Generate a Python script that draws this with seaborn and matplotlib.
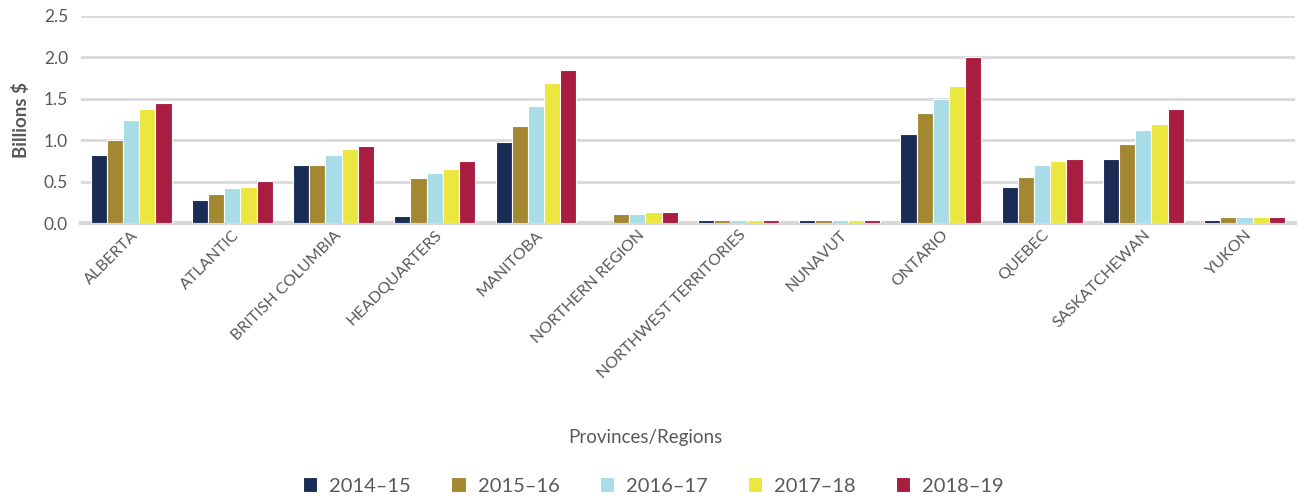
import matplotlib
matplotlib.use("Agg")
import matplotlib.pyplot as plt
import seaborn as sns
import pandas as pd

regions = ["ALBERTA", "ATLANTIC", "BRITISH COLUMBIA", "HEADQUARTERS", "MANITOBA",
           "NORTHERN REGION", "NORTHWEST TERRITORIES", "NUNAVUT", "ONTARIO",
           "QUEBEC", "SASKATCHEWAN", "YUKON"]
years = ["2014\u201315", "2015\u201316", "2016\u201317", "2017\u201318", "2018\u201319"]

v_2014_15 = [0.82, 0.28, 0.70, 0.09, 0.98, 0.00, 0.04, 0.04, 1.07, 0.44, 0.77, 0.04]
v_2015_16 = [1.00, 0.35, 0.70, 0.54, 1.17, 0.11, 0.04, 0.04, 1.33, 0.56, 0.96, 0.07]
v_2016_17 = [1.24, 0.42, 0.82, 0.61, 1.41, 0.11, 0.04, 0.04, 1.50, 0.70, 1.12, 0.07]
v_2017_18 = [1.38, 0.44, 0.89, 0.65, 1.69, 0.14, 0.04, 0.04, 1.66, 0.75, 1.20, 0.07]
v_2018_19 = [1.45, 0.51, 0.93, 0.75, 1.85, 0.14, 0.04, 0.04, 2.00, 0.77, 1.38, 0.07]

colors = ["#1a2b56", "#a38731", "#a8dde8", "#ece73f", "#a91d40"]

series = [v_2014_15, v_2015_16, v_2016_17, v_2017_18, v_2018_19]
rows = []
for y, vals in zip(years, series):
    for r, v in zip(regions, vals):
        rows.append({"Region": r, "Year": y, "Value": v})
df = pd.DataFrame(rows)

sns.set_theme(style="white")
plt.rcParams["font.family"] = ["Lato", "DejaVu Sans"]

fig = plt.figure(figsize=(12.99, 4.98), dpi=100)
ax = fig.add_axes([0.062, 0.552, 0.935, 0.416])

sns.barplot(data=df, x="Region", y="Value", hue="Year", palette=colors,
            saturation=1, width=0.8, edgecolor="white", linewidth=0.8,
            ax=ax, legend=True)
for p in ax.patches:
    p.set_zorder(3)

ax.set_ylim(0, 2.5)
ax.set_yticks([0, 0.5, 1.0, 1.5, 2.0, 2.5])
ax.set_yticklabels(["0.0", "0.5", "1.0", "1.5", "2.0", "2.5"])
ax.yaxis.grid(True, color="#d9d9d9", linewidth=2)
ax.set_axisbelow(True)
for s in ["top", "right", "left"]:
    ax.spines[s].set_visible(False)
ax.spines["bottom"].set_color("#d9d9d9")
ax.spines["bottom"].set_linewidth(3)
ax.spines["bottom"].set_zorder(1)
ax.tick_params(axis="both", length=0, colors="#595959")
ax.tick_params(axis="y", pad=9, labelsize=12.5)
ax.set_xlim(-0.5, len(regions) - 0.5)

for lab in ax.get_xticklabels():
    lab.set_rotation(45)
    lab.set_ha("right")
    lab.set_rotation_mode("anchor")
    lab.set_fontsize(11.5)
    lab.set_color("#595959")

ax.set_ylabel("Billions $", fontsize=13.5, fontweight="bold", color="#595959", labelpad=10)
ax.set_xlabel("")
fig.text(0.497, 0.122, "Provinces/Regions", ha="center", va="center",
         fontsize=13.5, color="#595959")

handles, labels = ax.get_legend_handles_labels()
ax.legend_.remove()
fig.legend(handles, labels, loc="center", bbox_to_anchor=(0.503, 0.024),
           ncol=5, frameon=False, fontsize=14.5, handlelength=0.7, handleheight=0.7,
           columnspacing=2.0, handletextpad=0.6, labelcolor="#595959")

fig.savefig("out.png", dpi=100)
